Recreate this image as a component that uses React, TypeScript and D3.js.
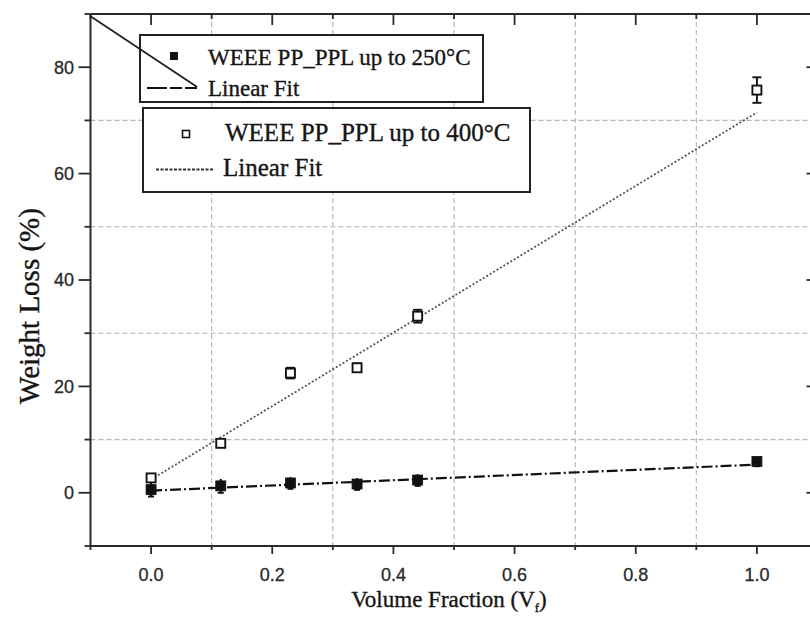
import React from "react";
import * as d3 from "d3";

// Volume fraction of the filler and measured weight loss
const volumeFraction = [0, 0.115, 0.23, 0.34, 0.44, 1.0];
const loss400 = [2.8, 9.3, 22.5, 23.5, 33.2, 75.7];
const err400 = [0.6, 0.7, 1.0, 0.8, 1.2, 2.4];
const loss250 = [0.6, 1.3, 1.85, 1.65, 2.4, 5.9];
const err250 = [1.3, 1.3, 1.1, 1.1, 1.1, 0.9];

// Linear fit end points (x, y)
const fit400X = [0, 1.0];
const fit400Y = [2.5, 71.5];
const fit250X = [0, 1.0];
const fit250Y = [0.4, 5.3];

// Leader line from the frame corner to the first legend sample
const leaderX = [-0.1, 0.076];
const leaderY = [89.6, 76.3];

const xMajorTicks = [0, 0.2, 0.4, 0.6, 0.8, 1.0];
const xMinorTicks = [-0.1, 0.1, 0.3, 0.5, 0.7, 0.9, 1.1];
const yMajorTicks = [0, 20, 40, 60, 80];
const yMinorTicks = [-10, 10, 30, 50, 70, 90];

const legendLabel250 = "WEEE PP_PPL up to 250°C";
const legendLabel400 = "WEEE PP_PPL up to 400°C";
const fitLabel = "Linear Fit";

const W = 810;
const H = 626;
const left = 90.5;
const right = 817.5;
const top = 14;
const bottom = 546;

const serif = "'Liberation Serif', 'Times New Roman', serif";
const sans = "'Liberation Sans', Arial, sans-serif";

export default function App() {
  const x = d3.scaleLinear().domain([-0.1, 1.1]).range([left, right]);
  const y = d3.scaleLinear().domain([-10, 90]).range([bottom, top]);

  const line = d3
    .line<[number, number]>()
    .x((d) => x(d[0]))
    .y((d) => y(d[1]));

  const fit400 = line(fit400X.map((v, i) => [v, fit400Y[i]]));
  const fit250 = line(fit250X.map((v, i) => [v, fit250Y[i]]));
  const leader = line(leaderX.map((v, i) => [v, leaderY[i]]));

  const axisColor = "#2a2a2a";
  const gridColor = "#b4b4b4";
  const dash250 = "11,3,2,3";
  const dot400 = "2,2";
  const ink = "#151515";
  const heavy = { stroke: ink, strokeWidth: 0.35 };

  return (
    <div style={{ position: "fixed", left: 0, top: 0 }}>
      <svg width={W} height={H} style={{ display: "block", background: "#fff" }}>
        {/* grid at minor positions */}
        <g stroke={gridColor} strokeWidth={1.1} strokeDasharray="5,3">
          {xMinorTicks
            .filter((t) => t > -0.1 && t < 1.1)
            .map((t) => (
              <line key={"gx" + t} x1={x(t)} x2={x(t)} y1={top} y2={bottom} />
            ))}
          {yMinorTicks
            .filter((t) => t > -10 && t < 90)
            .map((t) => (
              <line key={"gy" + t} x1={left} x2={right} y1={y(t)} y2={y(t)} />
            ))}
        </g>

        {/* fit lines */}
        <path d={fit400 ?? ""} fill="none" stroke="#555" strokeWidth={1.8} strokeDasharray={dot400} />
        <path d={fit250 ?? ""} fill="none" stroke="#111" strokeWidth={2.2} strokeDasharray={dash250} />

        {/* 400 °C series: open squares with error bars */}
        {volumeFraction.map((v, i) => {
          const cx = x(v);
          const cy = y(loss400[i]);
          const y1 = y(loss400[i] + err400[i]);
          const y2 = y(loss400[i] - err400[i]);
          return (
            <g key={"o" + i} stroke="#111" strokeWidth={1.9}>
              <line x1={cx} x2={cx} y1={y1} y2={y2} />
              <line x1={cx - 4.5} x2={cx + 4.5} y1={y1} y2={y1} />
              <line x1={cx - 4.5} x2={cx + 4.5} y1={y2} y2={y2} />
              <rect x={cx - 4.5} y={cy - 4.5} width={9} height={9} fill="#fff" />
            </g>
          );
        })}

        {/* 250 °C series: filled squares with error bars */}
        {volumeFraction.map((v, i) => {
          const cx = x(v);
          const cy = y(loss250[i]);
          const y1 = y(loss250[i] + err250[i]);
          const y2 = y(loss250[i] - err250[i]);
          return (
            <g key={"s" + i} stroke="#111" strokeWidth={2}>
              <line x1={cx} x2={cx} y1={y1} y2={y2} />
              <line x1={cx - 3} x2={cx + 3} y1={y2} y2={y2} />
              <rect x={cx - 5} y={cy - 5} width={10} height={10} fill="#111" strokeWidth={0.8} />
            </g>
          );
        })}

        {/* frame */}
        <g stroke={axisColor} strokeWidth={2} fill="none">
          <line x1={left} x2={right} y1={top} y2={top} />
          <line x1={left} x2={right} y1={bottom} y2={bottom} />
          <line x1={left} x2={left} y1={top} y2={bottom} />
          <line x1={right} x2={right} y1={top} y2={bottom} />
        </g>

        {/* ticks */}
        <g stroke={axisColor} strokeWidth={1.8}>
          {xMajorTicks.map((t) => (
            <g key={"xt" + t}>
              <line x1={x(t)} x2={x(t)} y1={bottom} y2={bottom + 8} />
              <line x1={x(t)} x2={x(t)} y1={top} y2={top + 11} />
            </g>
          ))}
          {xMinorTicks.map((t) => (
            <g key={"xm" + t}>
              <line x1={x(t)} x2={x(t)} y1={bottom} y2={bottom + 4} />
              <line x1={x(t)} x2={x(t)} y1={top} y2={top + 5} />
            </g>
          ))}
          {yMajorTicks.map((t) => (
            <g key={"yt" + t}>
              <line x1={left - 12} x2={left} y1={y(t)} y2={y(t)} />
              <line x1={right - 11} x2={right} y1={y(t)} y2={y(t)} />
            </g>
          ))}
          {yMinorTicks.map((t) => (
            <g key={"ym" + t}>
              <line x1={left - 6} x2={left} y1={y(t)} y2={y(t)} />
              <line x1={right - 5} x2={right} y1={y(t)} y2={y(t)} />
            </g>
          ))}
        </g>

        {/* tick labels */}
        <g fontFamily={sans} fontSize={18} fill="#2a2a2a" stroke="#2a2a2a" strokeWidth={0.3}>
          {xMajorTicks.map((t) => (
            <text key={"xl" + t} x={x(t)} y={581} textAnchor="middle">
              {d3.format(".1f")(t)}
            </text>
          ))}
          {yMajorTicks.map((t) => (
            <text key={"yl" + t} x={74} y={y(t)} dy="0.36em" textAnchor="end">
              {t}
            </text>
          ))}
        </g>

        {/* axis titles */}
        <text x={449} y={607} fontFamily={serif} fontSize={23} textAnchor="middle" fill={ink} {...heavy}>
          Volume Fraction (V
          <tspan fontSize={13} dy={5}>f</tspan>
          <tspan dy={-5}>)</tspan>
        </text>
        <text
          transform="translate(39,306) rotate(-90)"
          fontFamily={serif}
          fontSize={29}
          textAnchor="middle"
          fill={ink}
          {...heavy}
        >
          Weight Loss (%)
        </text>

        {/* legend: 250 °C */}
        <g>
          <rect x={140} y={35} width={343} height={67} fill="#fff" stroke="#222" strokeWidth={2} />
          <rect x={170} y={52} width={8} height={8} fill="#111" />
          <text x={208} y={65} fontFamily={serif} fontSize={23} fill={ink} {...heavy}>
            {legendLabel250}
          </text>
          <line x1={147} x2={197} y1={88} y2={88} stroke="#111" strokeWidth={1.8} strokeDasharray="20,3,12,3" />
          <text x={208} y={96} fontFamily={serif} fontSize={23} fill={ink} {...heavy}>
            {fitLabel}
          </text>
        </g>

        {/* legend: 400 °C */}
        <g>
          <rect x={143} y={108} width={387} height={84} fill="#fff" stroke="#222" strokeWidth={2} />
          <rect x={182.5} y={130.5} width={7} height={7} fill="#fff" stroke="#111" strokeWidth={1.6} />
          <text x={225} y={141} fontFamily={serif} fontSize={25} fill={ink} {...heavy}>
            {legendLabel400}
          </text>
          <line x1={156} x2={214} y1={169.5} y2={169.5} stroke="#333" strokeWidth={1.8} strokeDasharray="3,1.5" />
          <text x={223} y={176} fontFamily={serif} fontSize={25} fill={ink} {...heavy}>
            {fitLabel}
          </text>
        </g>

        {/* leader line */}
        <path d={leader ?? ""} fill="none" stroke="#222" strokeWidth={1.8} />
      </svg>
    </div>
  );
}
